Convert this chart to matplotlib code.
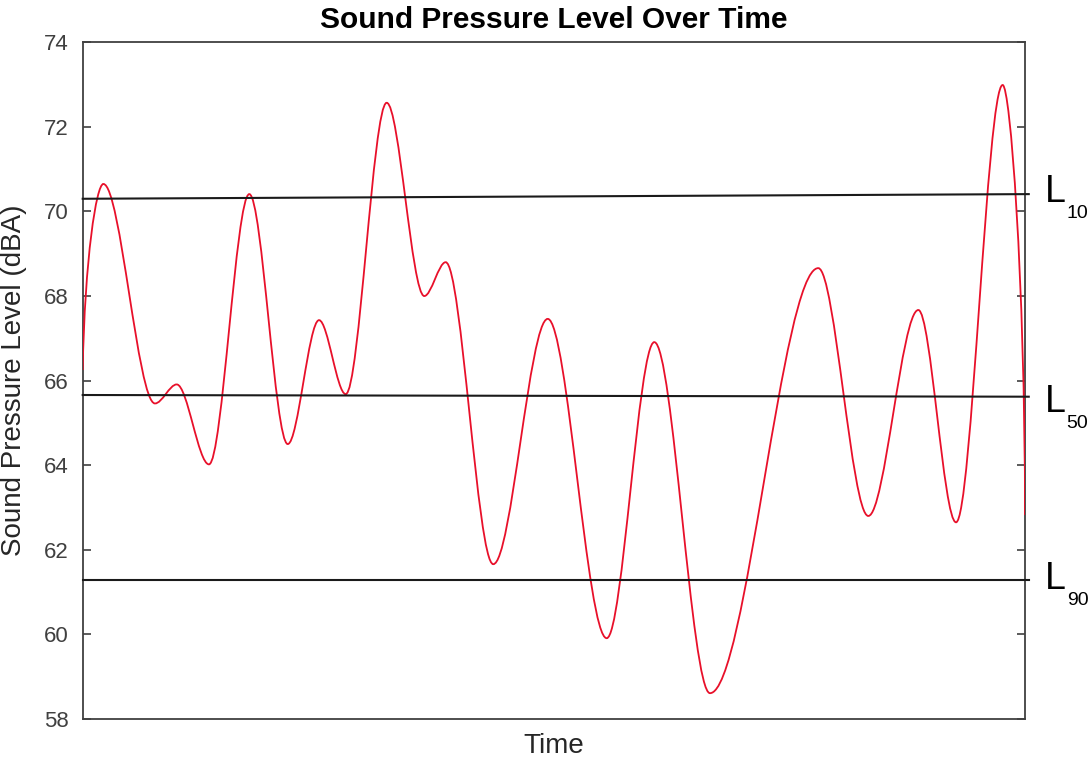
import matplotlib.pyplot as plt
from matplotlib.path import Path
from matplotlib.patches import PathPatch
import matplotlib.transforms as mtransforms

plt.rcParams['font.family'] = ['Liberation Sans', 'DejaVu Sans']

# turning points of the sound level trace (time in arbitrary units, level in dBA)
time_pts = [0.0, 2.19, 7.67, 9.98, 13.40, 17.68, 21.76, 25.08, 27.91, 32.26,
            36.25, 38.52, 43.57, 49.35, 55.61, 60.66, 66.57, 78.06, 83.37,
            88.68, 92.68, 97.63, 100.0]
level_pts = [66.25, 70.65, 65.46, 65.91, 64.02, 70.41, 64.50, 67.43, 65.68,
             72.57, 68.00, 68.80, 61.66, 67.46, 59.91, 66.91, 58.61, 68.66,
             62.80, 67.67, 62.65, 72.99, 62.82]

# percentile levels, value at the left and right end of each line
stat_names = ['10', '50', '90']
stat_left = [70.30, 65.66, 61.28]
stat_right = [70.41, 65.62, 61.28]

yticks = [58, 60, 62, 64, 66, 68, 70, 72, 74]

fig = plt.figure(figsize=(10.91, 7.66), dpi=100)
ax = fig.add_axes([0.0758, 0.0614, 0.8637, 0.8834])

# smooth trace: cubic segments with flat tangents at every turning point
verts = [(time_pts[0], level_pts[0])]
codes = [Path.MOVETO]
n = len(time_pts)
for i in range(n - 1):
    x0, y0 = time_pts[i], level_pts[i]
    x1, y1 = time_pts[i + 1], level_pts[i + 1]
    dx, dy = x1 - x0, y1 - y0
    if i == 0:
        c1 = (x0 + dx * 0.1, y0 + dy * 0.6)
    else:
        c1 = (x0 + dx / 3, y0)
    if i == n - 2:
        c2 = (x1, y1 - dy * 0.55)
    else:
        c2 = (x1 - dx / 3, y1)
    verts += [c1, c2, (x1, y1)]
    codes += [Path.CURVE4] * 3
trace = PathPatch(Path(verts, codes), fill=False, edgecolor='#e8102a',
                  linewidth=1.3, zorder=3)
ax.add_patch(trace)

blend = mtransforms.blended_transform_factory(ax.transAxes, ax.transData)
label_drop = [-6, -11, -6]
for name, yl, yr, drop in zip(stat_names, stat_left, stat_right, label_drop):
    ax.plot([0, 100.4], [yl, yr], color='#1a1a1a', linewidth=1.5,
            clip_on=False, zorder=4)
    ax.annotate('L', xy=(1.0, yr), xycoords=blend, xytext=(14, drop),
                textcoords='offset points', fontsize=27, va='baseline',
                ha='left', color='black', annotation_clip=False)
    ax.annotate(name, xy=(1.0, yr), xycoords=blend, xytext=(30, drop - 11.5),
                textcoords='offset points', fontsize=14, va='baseline',
                ha='left', color='black', annotation_clip=False)

ax.set_xlim(0, 100)
ax.set_ylim(58, 74)
ax.set_xticks([])
ax.set_yticks(yticks)
ax.tick_params(axis='y', direction='in', length=6, width=1.2, right=True,
               labelsize=16, labelcolor='#404040', color='#404040', pad=10)
for sp in ax.spines.values():
    sp.set_color('#404040')
    sp.set_linewidth(1.3)

ax.set_title('Sound Pressure Level Over Time', fontsize=21.5,
             fontweight='bold', pad=10)
ax.set_xlabel('Time', fontsize=20, color='#262626', labelpad=10)
ax.set_ylabel('Sound Pressure Level (dBA)', fontsize=20, color='#262626')
ax.yaxis.set_label_coords(-0.059, 0.5)

fig.savefig('out.png', dpi=100)
